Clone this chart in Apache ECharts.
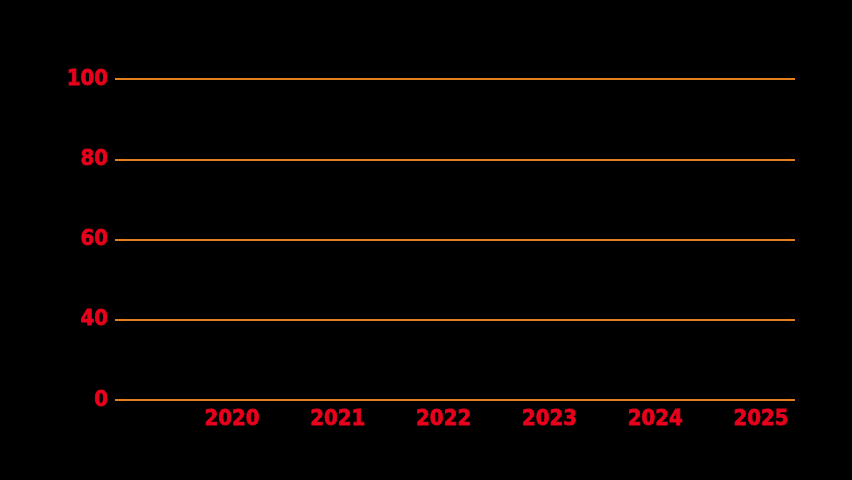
<!DOCTYPE html>
<html>
<head>
<meta charset="utf-8">
<script src="https://cdn.jsdelivr.net/npm/echarts@6/dist/echarts.min.js"></script>
<style>
  html, body { margin: 0; padding: 0; background: #000; }
  #chart { width: 852px; height: 480px; }
</style>
</head>
<body>
<div id="chart"></div>
<script>
// y axis tick labels, as shown (evenly spaced)
var yLabels = ['0', '40', '60', '80', '100'];
// years shown on the x axis
var years = [2020, 2021, 2022, 2023, 2024, 2025];
// visible x range
var xMin = 2018.894;
var xMax = 2025.321;

var labelFont = {
    color: '#e8001c',
    fontFamily: '"DejaVu Sans Condensed", "Liberation Sans", sans-serif',
    fontWeight: 'bold',
    fontSize: 22,
    textBorderColor: '#e8001c',
    textBorderWidth: 0.8
};

var myChart = echarts.init(document.getElementById('chart'));

var option = {
    backgroundColor: '#000000',
    animation: false,
    grid: {
        left: 115,
        right: 57,
        top: 79,
        bottom: 80,
        containLabel: false
    },
    xAxis: {
        type: 'value',
        min: xMin,
        max: xMax,
        minInterval: 1,
        maxInterval: 1,
        axisLine: { show: false },
        axisTick: { show: false },
        splitLine: { show: false },
        axisLabel: Object.assign({
            margin: 8,
            formatter: function (v) {
                return years.indexOf(Math.round(v * 1000) / 1000) >= 0 ? String(v) : '';
            }
        }, labelFont)
    },
    yAxis: {
        type: 'category',
        data: yLabels,
        boundaryGap: false,
        axisLine: { show: false },
        axisTick: { show: false },
        splitLine: {
            show: true,
            lineStyle: { color: '#e2801f', width: 2 }
        },
        axisLabel: Object.assign({ margin: 7 }, labelFont)
    },
    series: []
};

myChart.setOption(option);
</script>
</body>
</html>
